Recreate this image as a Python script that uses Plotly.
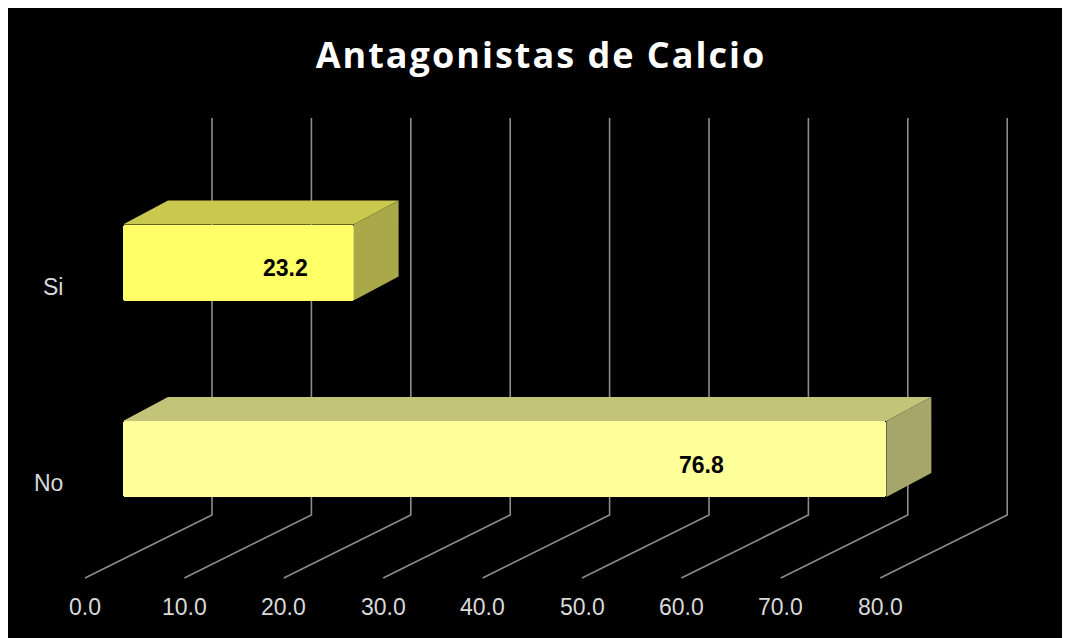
import plotly.graph_objects as go

# ---------------- data ----------------
categories = ["Si", "No"]
values = [23.2, 76.8]
cat_pos = [1, 0]
tick_values = [0, 10, 20, 30, 40, 50, 60, 70, 80]
tick_labels = ["0.0", "10.0", "20.0", "30.0", "40.0", "50.0", "60.0", "70.0", "80.0"]
title_text = "Antagonistas de Calcio"

# ---------------- styling / geometry ----------------
PAGE_W, PAGE_H = 1070, 638
OFF = 8                       # browser body margin
W, H = PAGE_W - OFF, PAGE_H - OFF
PPU = 9.94      # px per value unit
PPC = 196.5     # px per category step
X0 = 123 - OFF  # figure px of value 0 (bar front plane)
Y0 = 459 - OFF  # figure px of category position 0


def ux(px):
    return px / PPU


def uy(px):
    return px / PPC


def x_at(page_px):
    return (page_px - OFF - X0) / PPU


def y_at(page_px):
    return (Y0 - (page_px - OFF)) / PPC


x_range = [-X0 / PPU, (W - X0) / PPU]
y_range = [(Y0 - H) / PPC, Y0 / PPC]

FRONT_DX = ux(-38)
BACK_DX = ux(89)
FLOOR_FRONT_Y = y_at(578)
FLOOR_BACK_Y = y_at(515)
WALL_TOP_Y = y_at(118)
BAR_W = uy(76)
BAR_DX = ux(45)
BAR_DY = uy(24)

front_cols = ["#FFFF66", "#FFFF99"]
top_cols = ["#C9C94F", "#C3C37A"]
side_cols = ["#A9A94A", "#A6A66B"]
grid_col = "#8C8C8C"
text_col = "#D9D9D9"

fig = go.Figure()

shapes = [dict(type="rect", xref="paper", yref="paper", x0=0, x1=1,
               y0=0, y1=1, fillcolor="black", line=dict(width=0), layer="below")]
for v in tick_values:
    path = (f"M {v + FRONT_DX},{FLOOR_FRONT_Y} L {v + BACK_DX},{FLOOR_BACK_Y} "
            f"L {v + BACK_DX},{WALL_TOP_Y}")
    shapes.append(dict(type="path", xref="x", yref="y", path=path,
                       line=dict(color=grid_col, width=1.6), layer="below"))

# top and side faces
for c, v, tc, sc in zip(cat_pos, values, top_cols, side_cols):
    h = BAR_W / 2
    fig.add_trace(go.Scatter(
        x=[0, v, v + BAR_DX, BAR_DX, 0],
        y=[c + h, c + h, c + h + BAR_DY, c + h + BAR_DY, c + h],
        fill="toself", fillcolor=tc, mode="lines", line=dict(width=0),
        hoverinfo="skip", showlegend=False))
    fig.add_trace(go.Scatter(
        x=[v, v + BAR_DX, v + BAR_DX, v, v],
        y=[c - h, c - h + BAR_DY, c + h + BAR_DY, c + h, c - h],
        fill="toself", fillcolor=sc, mode="lines", line=dict(width=0),
        hoverinfo="skip", showlegend=False))

# front faces
fig.add_trace(go.Bar(
    x=values, y=cat_pos, orientation="h", base=0, width=BAR_W,
    marker=dict(color=front_cols, line=dict(width=0), cornerradius=3),
    hoverinfo="skip", showlegend=False))

annotations = []
for c, v in zip(cat_pos, values):
    annotations.append(dict(x=0.78 * v - 1.7, y=c - 0.03, xref="x", yref="y",
                            text=f"<b>{v:.1f}</b>", showarrow=False,
                            font=dict(family="Liberation Sans, Arial", size=23, color="black")))
for c, name in zip(cat_pos, categories):
    annotations.append(dict(x=x_at(65), y=c - uy(24), xref="x", yref="y",
                            text=name, showarrow=False, xanchor="right",
                            font=dict(family="Liberation Sans, Arial", size=23, color=text_col)))
for v, t in zip(tick_values, tick_labels):
    annotations.append(dict(x=v + FRONT_DX, y=y_at(607), xref="x", yref="y",
                            text=t, showarrow=False,
                            font=dict(family="Liberation Sans, Arial", size=23, color=text_col)))

fig.update_layout(
    width=W, height=H,
    margin=dict(l=0, r=0, t=0, b=0),
    paper_bgcolor="white", plot_bgcolor="white",
    title=dict(text=f"<b><span style=\"letter-spacing:2px\">{title_text}</span></b>",
               x=(541 - OFF) / W, xanchor="center",
               y=1 - (55 - OFF) / H, yanchor="middle",
               font=dict(family="Open Sans, sans-serif", size=36, color="white")),
    xaxis=dict(range=x_range, visible=False, fixedrange=True),
    yaxis=dict(range=y_range, visible=False, fixedrange=True),
    shapes=shapes, annotations=annotations, bargap=0,
)

fig.write_html("out.html")
